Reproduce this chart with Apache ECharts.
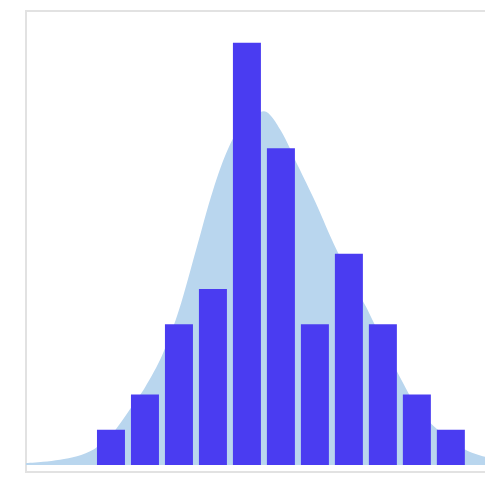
<!DOCTYPE html>
<html>
<head>
<meta charset="utf-8">
<script src="https://cdn.jsdelivr.net/npm/echarts@6/dist/echarts.min.js"></script>
<style>
html,body{margin:0;padding:0;background:#fff;overflow:hidden;}
#chart{width:485px;height:477px;}
</style>
</head>
<body>
<div id="chart"></div>
<script>
// Histogram bins (centres) and counts
const binCenters = [1, 2, 3, 4, 5, 6, 7, 8, 9, 10, 11];
const counts = [1, 2, 4, 5, 12, 9, 4, 6, 4, 2, 1];

// Density curve (scaled to counts)
const densityX = [-1.5, -1, -0.5, 0, 0.5, 1, 1.5, 2, 2.5, 3, 3.5, 4, 4.5, 5, 5.5, 6, 6.5, 7, 7.5, 8, 8.5, 9, 9.5, 10, 10.5, 11, 11.5, 12.3];
const densityY = [0.05, 0.09, 0.15, 0.25, 0.45, 0.85, 1.5, 2.2, 3.1, 4.4, 6.1, 7.8, 9.1, 9.8, 10.05, 9.5, 8.5, 7.5, 6.4, 5.4, 4.5, 3.5, 2.5, 1.65, 1.1, 0.7, 0.4, 0.15];

const chart = echarts.init(document.getElementById('chart'), null, {renderer: 'canvas'});
chart.setOption({
  backgroundColor: '#ffffff',
  animation: false,
  grid: {
    left: 26, right: -8, top: 11, bottom: 5,
    outerBoundsMode: 'none',
    show: true, borderColor: '#e2e2e2', borderWidth: 2, backgroundColor: 'transparent'
  },
  xAxis: {
    type: 'value', min: -1.5, max: 12.24,
    axisLine: {show: false}, axisTick: {show: false}, axisLabel: {show: false}, splitLine: {show: false}
  },
  yAxis: {
    type: 'value', min: -0.2, max: 12.9,
    axisLine: {show: false}, axisTick: {show: false}, axisLabel: {show: false}, splitLine: {show: false}
  },
  series: [
    {
      type: 'line',
      data: densityX.map((x, i) => [x, densityY[i]]),
      smooth: 0.3,
      symbol: 'none',
      lineStyle: {width: 0},
      areaStyle: {color: '#b9d6ee', opacity: 1, origin: 0},
      z: 1
    },
    {
      type: 'bar',
      data: binCenters.map((x, i) => [x, counts[i]]),
      barWidth: 28,
      itemStyle: {color: '#4a3cf1'},
      z: 2
    }
  ]
});
</script>
</body>
</html>
